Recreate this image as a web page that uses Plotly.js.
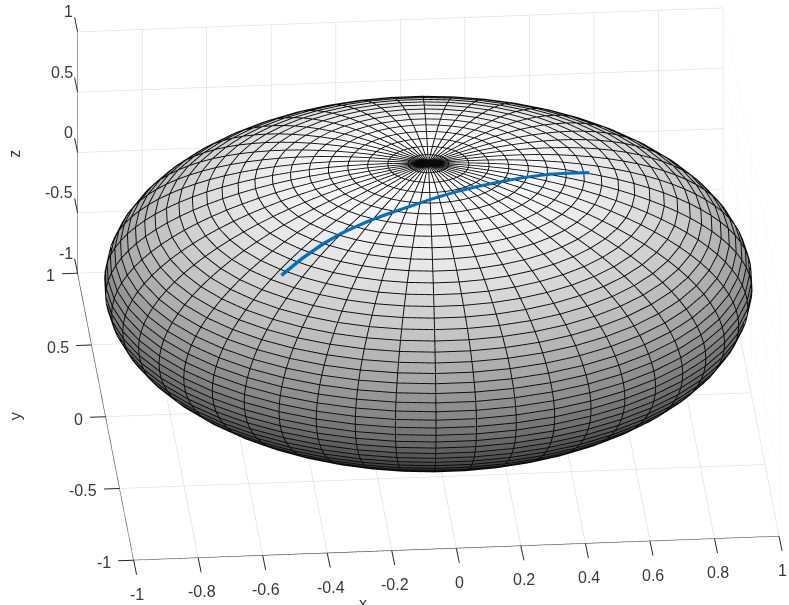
<!DOCTYPE html>
<html>
<head>
<meta charset="utf-8">
<script src="https://cdn.plot.ly/plotly-3.0.1.min.js"></script>
<style>
  html, body { margin: 0; padding: 0; background: #fff; overflow: hidden; }
  #plot { width: 789px; height: 605px; }
</style>
</head>
<body>
<div id="plot"></div>
<script>
"use strict";

const LON_DEG = [-180,-172.8,-165.6,-158.4,-151.2,-144,-136.8,-129.6,-122.4,-115.2,-108,-100.8,-93.6,-86.4,-79.2,-72,-64.8,-57.6,-50.4,-43.2,-36,-28.8,-21.6,-14.4,-7.2,0,7.2,14.4,21.6,28.8,36,43.2,50.4,57.6,64.8,72,79.2,86.4,93.6,100.8,108,115.2,122.4,129.6,136.8,144,151.2,158.4,165.6,172.8,180];
const LAT_DEG = [-90,-86.4,-82.8,-79.2,-75.6,-72,-68.4,-64.8,-61.2,-57.6,-54,-50.4,-46.8,-43.2,-39.6,-36,-32.4,-28.8,-25.2,-21.6,-18,-14.4,-10.8,-7.2,-3.6,0,3.6,7.2,10.8,14.4,18,21.6,25.2,28.8,32.4,36,39.6,43.2,46.8,50.4,54,57.6,61.2,64.8,68.4,72,75.6,79.2,82.8,86.4,90];

// blue path over the sphere
const PATH_X = [-0.496,-0.427,-0.361,-0.296,-0.218,-0.154,-0.080,0.017,0.123,0.201,0.284,0.371,0.435,0.496];
const PATH_Y = [-0.497,-0.447,-0.402,-0.363,-0.325,-0.297,-0.264,-0.216,-0.165,-0.130,-0.090,-0.050,-0.025,0.000];
const PATH_Z = [0.712,0.787,0.842,0.883,0.920,0.943,0.961,0.976,0.979,0.971,0.955,0.927,0.900,0.868];

const X_TICKS = [-1,-0.8,-0.6,-0.4,-0.2,0,0.2,0.4,0.6,0.8,1];
const Y_TICKS = [-1,-0.5,0,0.5,1];
const Z_TICKS = [-1,-0.5,0,0.5,1];

const FONT = "Liberation Sans";
const TEXT_COLOR = "#383838";
const AXIS_COLOR = "#262626";
const GRID_COLOR = "#dedede";

const rad = d => d * Math.PI / 180;

function spherePoint(lonDeg, latDeg) {
    return [
        Math.cos(rad(latDeg)) * Math.cos(rad(lonDeg)),
        Math.cos(rad(latDeg)) * Math.sin(rad(lonDeg)),
        Math.sin(rad(latDeg)),
    ];
}

function buildMesh() {
    const x = [], y = [], z = [], i = [], j = [], k = [], c = [];
    const nLon = LON_DEG.length, nLat = LAT_DEG.length;
    // pulled in a touch so the wire stays in front and inside the axis range
    const shrink = 0.997;
    LAT_DEG.forEach(lat => LON_DEG.forEach(lon => {
        const p = spherePoint(lon, lat);
        x.push(p[0] * shrink); y.push(p[1] * shrink); z.push(p[2] * shrink);
    }));
    for (let r = 0; r < nLat - 1; r++) {
        for (let s = 0; s < nLon - 1; s++) {
            const a = r * nLon + s, b = a + 1, d = a + nLon, e = d + 1;
            i.push(a, a); j.push(b, e); k.push(e, d);
            // flat cell colour comes from the lower ring
            c.push(z[a], z[a]);
        }
    }
    return { x, y, z, i, j, k, c };
}

function wireTrace(points) {
    return {
        type: "scatter3d", mode: "lines",
        x: points.map(p => p[0]), y: points.map(p => p[1]), z: points.map(p => p[2] * 0.9995),
        line: { color: "#0a0a0a", width: 1.9 },
        hoverinfo: "skip", showlegend: false,
    };
}

// gl3d ticks can't lean along another axis like the reference, so ticks and labels are scene annotations
function tickMark(pos, ax, ay) {
    return {
        x: pos[0], y: pos[1], z: pos[2], text: "",
        showarrow: true, arrowhead: 0, arrowwidth: 1, arrowcolor: AXIS_COLOR, ax: ax, ay: ay,
    };
}

function label(pos, text, xshift, yshift, anchor, angle) {
    return {
        x: pos[0], y: pos[1], z: pos[2], text: text,
        showarrow: false, xshift: xshift, yshift: yshift,
        xanchor: anchor, yanchor: "middle", textangle: angle || 0,
        borderpad: 0, borderwidth: 0,
        font: { family: FONT, size: 16, color: TEXT_COLOR },
    };
}

function buildAnnotations() {
    const out = [];
    X_TICKS.forEach(v => {
        out.push(tickMark([v, -1, -1], 3.3, 16));
        out.push(label([v, -1, -1], String(v), 3.5, -34, "center"));
    });
    Y_TICKS.forEach(v => {
        out.push(tickMark([-1, v, -1], -17, 0.6));
        out.push(label([-1, v, -1], String(v), -23, -2.5, "right"));
    });
    Z_TICKS.forEach(v => {
        out.push(tickMark([-1, 1, v], -3.3, -16));
        out.push(label([-1, 1, v], String(v), -4.5, 20, "right"));
    });
    out.push(label([0, -1, -1], "x", -93.5, -55, "center"));
    out.push(label([-1, 0, -1], "y", -90, 0, "center", -90));
    out.push(label([-1, 1, 0], "z", -63.5, -1, "center", -90));
    return out;
}

function axis(ticks) {
    return {
        title: { text: "" },
        range: [-1, 1], autorange: false,
        tickmode: "array", tickvals: ticks,
        showticklabels: false, ticks: "",
        showline: true, linecolor: AXIS_COLOR, linewidth: 1.5,
        showgrid: true, gridcolor: GRID_COLOR, gridwidth: 1.3,
        zeroline: false, showbackground: false, showspikes: false,
    };
}

const m = buildMesh();
const lift = 1.005;

const traces = [
    {
        type: "mesh3d",
        x: m.x, y: m.y, z: m.z, i: m.i, j: m.j, k: m.k,
        intensity: m.c, intensitymode: "cell",
        colorscale: [[0, "#000000"], [1, "#ffffff"]],
        cmin: -1, cmax: 1, showscale: false, flatshading: true,
        lighting: { ambient: 1, diffuse: 0, specular: 0, fresnel: 0, roughness: 1 },
        hoverinfo: "skip",
    },
];
LAT_DEG.slice(1, -1).forEach(lat => traces.push(wireTrace(LON_DEG.map(lon => spherePoint(lon, lat)))));
LON_DEG.slice(0, -1).forEach(lon => traces.push(wireTrace(LAT_DEG.map(lat => spherePoint(lon, lat)))));
traces.push({
    type: "scatter3d", mode: "lines",
    x: PATH_X.map(v => v * lift), y: PATH_Y.map(v => v * lift), z: PATH_Z.map(v => v * lift),
    line: { color: "#0072BD", width: 7 },
    hoverinfo: "skip", showlegend: false,
});

// orthographic scene: size on screen is set by the aspect ratio, not the eye distance
const SCALE = 2.1414;
const VIEW_DIR = [-0.0763, -0.8968, 0.436];
const EYE_DIST = 1.9;
const CENTER = [-0.1137, -0.017, -0.0548];

const layout = {
    width: 789, height: 605,
    margin: { t: 0, r: 0, b: 0, l: 0 },
    paper_bgcolor: "#ffffff",
    showlegend: false,
    scene: {
        domain: { x: [0, 1], y: [0, 1] },
        aspectmode: "manual",
        aspectratio: { x: 1 * SCALE, y: 1.02 * SCALE, z: 0.414 * SCALE },
        camera: {
            projection: { type: "orthographic" },
            up: { x: 0, y: 0, z: 1 },
            center: { x: CENTER[0], y: CENTER[1], z: CENTER[2] },
            eye: {
                x: CENTER[0] + VIEW_DIR[0] * EYE_DIST,
                y: CENTER[1] + VIEW_DIR[1] * EYE_DIST,
                z: CENTER[2] + VIEW_DIR[2] * EYE_DIST,
            },
        },
        xaxis: axis(X_TICKS),
        yaxis: axis(Y_TICKS),
        zaxis: axis(Z_TICKS),
        annotations: buildAnnotations(),
        bgcolor: "#ffffff",
    },
};

Plotly.newPlot("plot", traces, layout, { displayModeBar: false, responsive: false });
</script>
</body>
</html>
